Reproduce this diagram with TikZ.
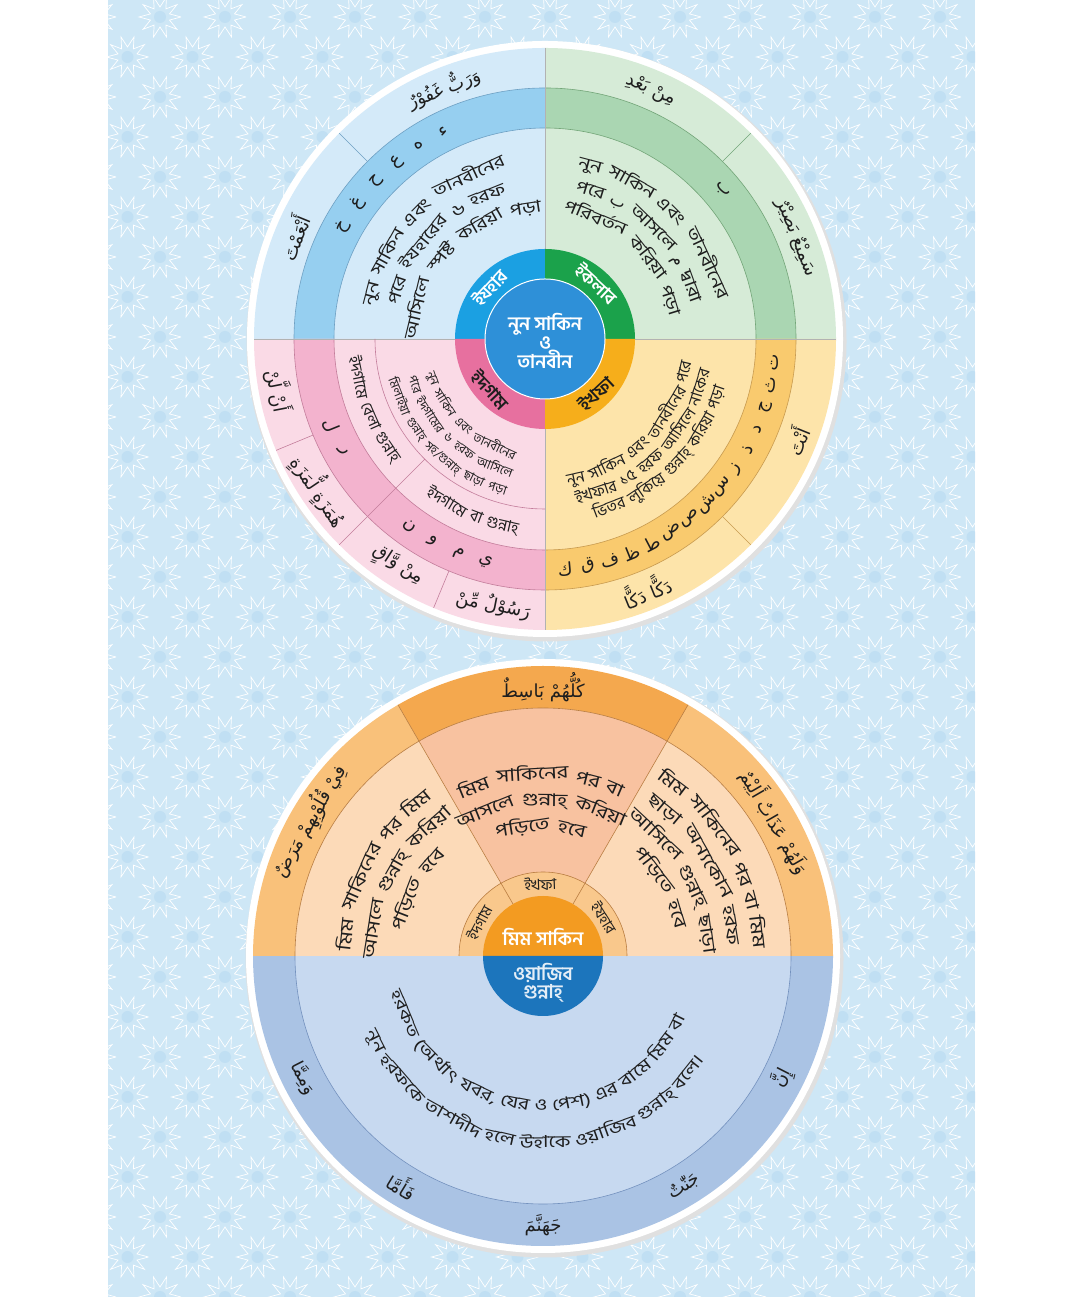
\documentclass[tikz,border=0pt]{standalone}
\usepackage{fontspec}
\newfontfamily\bn[Script=Bengali]{Hind Siliguri}
\newfontfamily\bnw[Script=Bengali,FakeStretch=1.28]{Hind Siliguri}
\newfontfamily\ar[Script=Arabic]{DejaVu Sans}
\TeXXeTstate=1
\usetikzlibrary{calc}
\definecolor{panel}{RGB}{206,231,246}
\definecolor{patdot}{RGB}{192,223,243}
\definecolor{izblue}{RGB}{27,160,226}
\definecolor{izlight}{RGB}{212,234,249}
\definecolor{izband}{RGB}{150,207,240}
\definecolor{izline}{RGB}{110,160,195}
\definecolor{iqgreen}{RGB}{27,162,75}
\definecolor{iqlight}{RGB}{214,235,215}
\definecolor{iqband}{RGB}{170,214,178}
\definecolor{iqline}{RGB}{115,165,120}
\definecolor{idpink}{RGB}{231,112,159}
\definecolor{idlight}{RGB}{250,218,230}
\definecolor{idband}{RGB}{243,179,206}
\definecolor{idline}{RGB}{195,125,155}
\definecolor{ikamber}{RGB}{246,174,27}
\definecolor{iklight}{RGB}{253,228,170}
\definecolor{ikband}{RGB}{249,202,110}
\definecolor{ikline}{RGB}{200,155,80}
\definecolor{hubblue}{RGB}{46,144,216}
\definecolor{mimorange}{RGB}{243,155,33}
\definecolor{mimblue}{RGB}{28,117,188}
\definecolor{ringtop}{RGB}{244,168,78}
\definecolor{ringside}{RGB}{249,193,122}
\definecolor{wedgeside}{RGB}{252,218,184}
\definecolor{wedgemid}{RGB}{248,194,160}
\definecolor{labring}{RGB}{249,200,140}
\definecolor{lowblue}{RGB}{199,217,240}
\definecolor{lowring}{RGB}{170,195,228}
\definecolor{edgebrown}{RGB}{185,125,65}
\definecolor{edgeblue}{RGB}{115,145,190}
\definecolor{ink}{RGB}{30,30,30}

\newcommand\fdesc{\bnw\fontsize{16.5}{20}\selectfont}
\newcommand\fwedge{\bnw\fontsize{17.5}{21}\selectfont}
\newcommand\flow{\bnw\fontsize{16.5}{20}\selectfont}
\newcommand\fmid{\bn\fontsize{16}{18}\selectfont}
\newcommand\fsmall{\bn\fontsize{12.5}{14}\selectfont}
\newcommand\fring{\bn\fontsize{16}{18}\selectfont}
\newcommand\flabb{\bn\fontsize{15}{17}\selectfont}
\newcommand\flab{\bn\bfseries\fontsize{18}{20}\selectfont}
\newcommand\fhub{\bn\bfseries\fontsize{19}{22}\selectfont}
\newcommand\farab{\ar\fontsize{18}{20}\selectfont}
\newcommand\fletter{\ar\fontsize{18}{24}\selectfont}

% words set one by one round an arc: [opts]{radius}{mid angle}{-1 top / +1 bottom}{font}{words}
\newdimen\wrdwd
\newdimen\arcsumdim
\newdimen\arcposdim
\def\arcgap{6}
\makeatletter
\newcommand\arcline[6][]{%
  \global\arcsumdim=0pt
  \foreach \wrd in {#6}{%
    \pgfinterruptpicture\setbox0=\hbox{#5\wrd}\global\wrdwd=\wd0 \endpgfinterruptpicture
    \global\advance\arcsumdim by \wrdwd
    \global\advance\arcsumdim by \arcgap pt}%
  \global\arcposdim=-0.5\arcsumdim
  \global\advance\arcposdim by 0.5\arcgap pt
  \foreach \wrd in {#6}{%
    \pgfinterruptpicture\setbox0=\hbox{#5\wrd}\global\wrdwd=\wd0 \endpgfinterruptpicture
    \global\advance\arcposdim by 0.5\wrdwd
    \edef\arcposn{\strip@pt\arcposdim}%
    \pgfmathsetmacro\arcang{#3+(#4)*(\arcposn)/#2*57.2958}%
    \pgfmathsetmacro\arcrot{\arcang+(#4)*90}%
    \node[anchor=base,inner sep=0pt,text=ink,font=#5,rotate=\arcrot,#1] at (\arcang:#2) {\wrd};
    \global\advance\arcposdim by 0.5\wrdwd
    \global\advance\arcposdim by \arcgap pt}%
}
\makeatother
% one arabic word or letter: {angle}{radius}{-1 top / +1 bottom}{font}{text}
\newcommand\arword[5]{%
  \node[inner sep=0pt,text=ink,font=#4,rotate={#1+(#3)*90}] at (#1:#2) {#5};}

\begin{document}
\begin{tikzpicture}[x=1pt,y=1pt]
\useasboundingbox (0,0) rectangle (1080,1297);
\fill[white] (0,0) rectangle (1080,1297);

% patterned panel
\begin{scope}
  \clip (108,0) rectangle (975,1297);
  \fill[panel] (108,0) rectangle (975,1297);
  \foreach \i in {0,...,14} \foreach \j in {0,...,33} {
    \pgfmathsetmacro\px{95+\i*65+mod(\j,2)*32.5}
    \pgfmathsetmacro\py{\j*40}
    \fill[patdot] (\px,\py) circle (6pt);
    \draw[white,line width=0.7pt,shift={(\px,\py)}]
      plot[samples at={0,18,...,360},variable=\t] (\t:{ifthenelse(mod(\t,36)==0,21,10)});
  }
\end{scope}

% ---------- top wheel: nun sakin
\begin{scope}[shift={(545,958)}]
  \fill[black!12] (1.5,-2.5) circle (300pt);
  \fill[white] (0,0) circle (298pt);
  \foreach \s/\e/\lt/\bd/\ln in {90/180/izlight/izband/izline,0/90/iqlight/iqband/iqline,
      180/270/idlight/idband/idline,270/360/iklight/ikband/ikline}{
    \fill[\lt] (0,0) -- (\s:291pt) arc (\s:\e:291pt) -- cycle;
    \fill[\bd] (\s:211pt) arc (\s:\e:211pt) -- (\e:251pt) arc (\e:\s:251pt) -- cycle;
    \draw[\ln,line width=0.6pt] (\s:211pt) arc (\s:\e:211pt) (\s:251pt) arc (\s:\e:251pt);
  }
  \draw[black!30,line width=0.8pt] (-291,0) -- (291,0) (0,-291) -- (0,291);
  \draw[izline,line width=0.6pt] (135:251pt) -- (135:291pt);
  \draw[iqline,line width=0.6pt] (45:251pt) -- (45:291pt);
  \draw[ikline,line width=0.6pt] (315:251pt) -- (315:291pt);
  \draw[idline,line width=0.6pt] (180:170pt) arc (180:270:170pt) (225:170pt) -- (225:251pt);
  \foreach \a in {202.5,225,247.5} {\draw[idline,line width=0.6pt] (\a:251pt) -- (\a:291pt);}
  % label ring and hub
  \foreach \s/\e/\c in {90/180/izblue,0/90/iqgreen,180/270/idpink,270/360/ikamber}
    {\fill[\c] (\s:60pt) arc (\s:\e:60pt) -- (\e:90pt) arc (\e:\s:90pt) -- cycle;}
  \fill[hubblue] (0,0) circle (60pt);
  \draw[white,line width=1pt] (0,0) circle (60pt);
  \node[font=\fhub,text=white,align=center] (nunhub) at (0,-2) {নুন সাকিন\\[-3pt]ও\\[-3pt]তানবীন};
  \arcline[text=white]{68}{135}{-1}{\flab}{ইযহার}
  \arcline[text=white]{68}{45}{-1}{\flab}{ইকলাব}
  \arcline{82}{225}{1}{\flab}{ইদগাম}
  \arcline{82}{315}{1}{\flab}{ইখফা}
  % descriptions
  \arcline{174}{135}{-1}{\fdesc}{নুন,সাকিন,এবং,তানবীনের}
  \arcline{150}{135}{-1}{\fdesc}{পরে,ইযহারের,৬,হরফ}
  \arcline{126}{135}{-1}{\fdesc}{আসিলে,স্পষ্ট,করিয়া,পড়া}
  \arcline{174}{45}{-1}{\fdesc}{নুন,সাকিন,এবং,তানবীনের}
  \arcline{150}{45}{-1}{\fdesc}{পরে,{\ar ب},আসলে,{\ar م},দ্বারা}
  \arcline{126}{45}{-1}{\fdesc}{পরিবর্তন,করিয়া,পড়া}
  \arcline{148}{316}{1}{\fmid}{নুন,সাকিন,এবং,তানবীনের,পরে}
  \arcline{167}{316}{1}{\fmid}{ইখফার,১৫,হরফ,আসিলে,নাকের}
  \arcline{186}{316}{1}{\fmid}{ভিতর,লুকিয়ে,গুন্নাহ্,করিয়া,পড়া}
  \arcline{123}{227}{1}{\fsmall}{নুন,সাকিন,এবং,তানবীনের}
  \arcline{142}{227}{1}{\fsmall}{পরে,ইদগামের,৬,হরফ,আসিলে}
  \arcline{161}{226}{1}{\fsmall}{মিলাইয়া,গুন্নাহ্,সহ/গুন্নাহ্,ছাড়া,পড়া}
  \arcline{196}{203}{1}{\fring}{ইদগামে,বেলা,গুন্নাহ্}
  \arcline{196}{248}{1}{\fring}{ইদগামে,বা,গুন্নাহ্}
  % letter bands
  \foreach \a/\l in {116/ء,123/ه,130/ع,137/ح,144/غ,151/خ} {\arword{\a}{231}{-1}{\fletter}{\l}}
  \arword{40}{231}{-1}{\fletter}{ب}
  \foreach \l [count=\k from 0] in {ت,ث,ج,د,ذ,ز,س,ش,ص,ض,ط,ظ,ف,ق,ك}
    {\arword{354-\k*5.64}{231}{1}{\fletter}{\l}}
  \foreach \a/\l in {202/ل,209/ر,234/ن,241/و,248/م,255/ي} {\arword{\a}{231}{1}{\fletter}{\l}}
  % examples
  \arword{112}{271}{-1}{\farab}{\beginR وَرَبٌّ غَفُوْرٌ\endR}
  \arword{158}{271}{-1}{\farab}{\beginR أَنْعَمْتَ\endR}
  \arword{67}{271}{-1}{\farab}{\beginR مِنْ بَعْدِ\endR}
  \arword{22}{271}{-1}{\farab}{\beginR سَمِيْعٌ بَصِيْرٌ\endR}
  \arword{338}{271}{1}{\farab}{\beginR أَنْتَ\endR}
  \arword{292}{271}{1}{\farab}{\beginR دَكًّا دَكًّا\endR}
  \arword{191}{271}{1}{\farab}{\beginR أَنْ لَّنْ\endR}
  \arword{214}{271}{1}{\farab}{\beginR هُمَزَةٍ لُّمَزَةٍ\endR}
  \arword{237}{271}{1}{\farab}{\beginR مِنْ وَّاقٍ\endR}
  \arword{259}{271}{1}{\farab}{\beginR رَسُوْلٌ مِّنْ\endR}
\end{scope}

% ---------- bottom wheel: mim sakin
\begin{scope}[shift={(543,341)}]
  \fill[black!12] (1.5,-2.5) circle (299pt);
  \fill[white] (0,0) circle (297pt);
  \fill[lowring] (0:290pt) arc (0:-180:290pt) -- cycle;
  \fill[lowblue] (0:248pt) arc (0:-180:248pt) -- cycle;
  \draw[edgeblue,line width=0.6pt] (0:248pt) arc (0:-180:248pt);
  \foreach \s/\e/\c/\w in {0/60/ringside/wedgeside,60/120/ringtop/wedgemid,120/180/ringside/wedgeside}{
    \fill[\c] (\s:248pt) arc (\s:\e:248pt) -- (\e:290pt) arc (\e:\s:290pt) -- cycle;
    \fill[\w] (0,0) -- (\s:248pt) arc (\s:\e:248pt) -- cycle;
  }
  \fill[labring] (0:60pt) arc (0:180:60pt) -- (180:84pt) arc (180:0:84pt) -- cycle;
  \draw[edgebrown,line width=0.6pt] (0:248pt) arc (0:180:248pt) (0:84pt) arc (0:180:84pt);
  \draw[edgebrown,line width=0.6pt] (60:60pt) -- (60:290pt) (120:60pt) -- (120:290pt);
  \fill[mimorange] (0:60pt) arc (0:180:60pt) -- cycle;
  \fill[mimblue] (0:60pt) arc (0:-180:60pt) -- cycle;
  \node[font=\fhub,text=white] (mimhub) at (0,19) {মিম সাকিন};
  \node[font=\fhub,text=white!88!mimblue,align=center] (wajib) at (0,-27) {ওয়াজিব\\[-4pt]গুন্নাহ্};
  \arcline{66}{150}{-1}{\flabb}{ইদগাম}
  \arcline{66}{90}{-1}{\flabb}{ইখফা}
  \arcline{66}{30}{-1}{\flabb}{ইযহার}
  % wedges
  \arcline{176}{90}{-1}{\fwedge}{মিম,সাকিনের,পর,বা}
  \arcline{150}{90}{-1}{\fwedge}{আসলে,গুন্নাহ্,করিয়া}
  \arcline{124}{90}{-1}{\fwedge}{পড়িতে,হবে}
  \arcline{192}{151}{-1}{\fwedge}{মিম,সাকিনের,পর,মিম}
  \arcline{166}{151}{-1}{\fwedge}{আসলে,গুন্নাহ্,করিয়া}
  \arcline{140}{151}{-1}{\fwedge}{পড়িতে,হবে}
  \arcline{210}{29}{-1}{\fwedge}{মিম,সাকিনের,পর,বা,মিম}
  \arcline{185}{29}{-1}{\fwedge}{ছাড়া,অন্যকোন,হরফ}
  \arcline{160}{29}{-1}{\fwedge}{আসিলে,গুন্নাহ্,ছাড়া}
  \arcline{135}{29}{-1}{\fwedge}{পড়িতে,হবে}
  % lower half
  \arcline{155}{266}{1}{\flow}{হরকত,{(অর্থাৎ},{যবর,},যের,ও,{পেশ)},এর,বামে,মিম,বা}
  \arcline{192}{266}{1}{\flow}{নূন,হরফকে,তাশদীদ,হলে,উহাকে,ওয়াজিব,গুন্নাহ্,বলে।}
  % examples
  \arword{90}{269}{-1}{\farab}{\beginR كُلُّهُمْ بَاسِطٌ\endR}
  \arword{150}{269}{-1}{\farab}{\beginR فِيْ قُلُوْبِهِمْ مَرَضٌ\endR}
  \arword{30}{269}{-1}{\farab}{\beginR وَلَهُمْ عَذَابٌ أَلِيْمٌ\endR}
  \arword{207}{269}{1}{\farab}{\beginR وَمِمَّا\endR}
  \arword{238.5}{269}{1}{\farab}{\beginR فَأَمَّا\endR}
  \arword{270}{269}{1}{\farab}{\beginR جَهَنَّمَ\endR}
  \arword{301.5}{269}{1}{\farab}{\beginR جَنّٰتٌ\endR}
  \arword{333}{269}{1}{\farab}{\beginR إِنَّ\endR}
\end{scope}
\end{tikzpicture}
\end{document}
